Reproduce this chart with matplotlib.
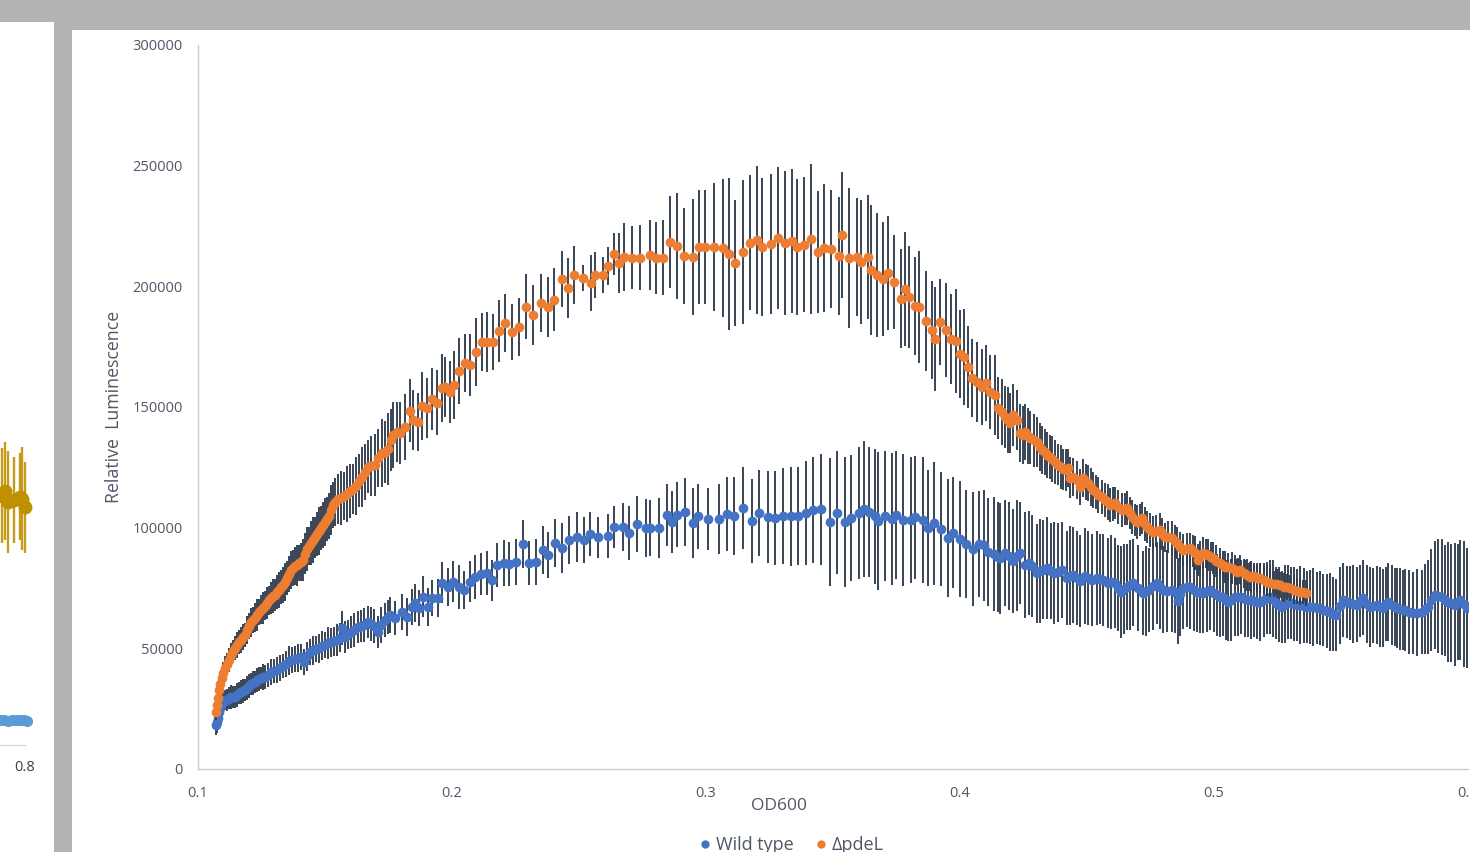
import matplotlib
matplotlib.use("Agg")
import matplotlib.pyplot as plt
from matplotlib.patches import Rectangle
from matplotlib.lines import Line2D

# ---------------- data ----------------
series_names = ["Wild type", "\u0394pdeL"]

wt_od = [0.1071,0.1075,0.1079,0.1083,0.1087,0.1091,0.1098,0.1106,0.1114,0.1122,
0.1130,0.1138,0.1146,0.1154,0.1161,0.1169,0.1177,0.1185,0.1193,0.1201,
0.1209,0.1217,0.1224,0.1232,0.1240,0.1248,0.1256,0.1264,0.1276,0.1287,
0.1299,0.1311,0.1323,0.1335,0.1346,0.1358,0.1370,0.1382,0.1394,0.1406,
0.1417,0.1429,0.1441,0.1453,0.1465,0.1476,0.1488,0.1500,0.1512,0.1524,
0.1535,0.1547,0.1559,0.1567,0.1579,0.1591,0.1602,0.1614,0.1630,0.1642,
0.1654,0.1669,0.1681,0.1693,0.1709,0.1720,0.1736,0.1748,0.1756,0.1776,
0.1803,0.1823,0.1843,0.1854,0.1870,0.1886,0.1906,0.1921,0.1945,0.1961,
0.1984,0.2004,0.2028,0.2047,0.2071,0.2091,0.2114,0.2138,0.2157,0.2177,
0.2205,0.2224,0.2252,0.2280,0.2303,0.2331,0.2358,0.2378,0.2406,0.2433,
0.2461,0.2492,0.2520,0.2543,0.2575,0.2614,0.2638,0.2673,0.2697,0.2728,
0.2764,0.2780,0.2815,0.2846,0.2866,0.2886,0.2917,0.2949,0.2969,0.3008,
0.3051,0.3083,0.3110,0.3146,0.3181,0.3209,0.3244,0.3272,0.3303,0.3335,
0.3362,0.3394,0.3421,0.3453,0.3488,0.3516,0.3547,0.3571,0.3602,0.3622,
0.3642,0.3665,0.3677,0.3705,0.3732,0.3748,0.3776,0.3807,0.3823,0.3854,
0.3874,0.3898,0.3925,0.3953,0.3972,0.4000,0.4024,0.4051,0.4075,0.4094,
0.4110,0.4134,0.4150,0.4157,0.4177,0.4193,0.4209,0.4224,0.4236,0.4256,
0.4272,0.4283,0.4303,0.4315,0.4327,0.4343,0.4358,0.4370,0.4386,0.4402,
0.4421,0.4433,0.4445,0.4461,0.4472,0.4492,0.4504,0.4520,0.4539,0.4551,
0.4563,0.4583,0.4594,0.4610,0.4622,0.4634,0.4646,0.4657,0.4669,0.4681,
0.4701,0.4720,0.4732,0.4744,0.4760,0.4776,0.4787,0.4799,0.4815,0.4835,
0.4846,0.4858,0.4866,0.4878,0.4894,0.4906,0.4921,0.4933,0.4945,0.4957,
0.4972,0.4984,0.5000,0.5012,0.5024,0.5035,0.5047,0.5055,0.5067,0.5083,
0.5094,0.5106,0.5122,0.5134,0.5146,0.5157,0.5169,0.5181,0.5197,0.5209,
0.5220,0.5232,0.5244,0.5256,0.5268,0.5280,0.5291,0.5303,0.5315,0.5327,
0.5339,0.5354,0.5366,0.5378,0.5390,0.5406,0.5417,0.5429,0.5445,0.5457,
0.5469,0.5480,0.5496,0.5508,0.5524,0.5535,0.5547,0.5563,0.5575,0.5587,
0.5602,0.5614,0.5626,0.5642,0.5654,0.5665,0.5677,0.5685,0.5701,0.5713,
0.5720,0.5732,0.5744,0.5752,0.5768,0.5783,0.5799,0.5819,0.5831,0.5843,
0.5854,0.5870,0.5882,0.5898,0.5909,0.5921,0.5933,0.5949,0.5961,0.5969,
0.5984,0.5996]

wt_lum = [18200,19500,21100,23600,25300,26500,27800,28600,28600,29400,
29800,29800,29800,30700,31500,31900,32300,32700,33600,34400,
35200,35600,36100,36900,37300,37700,38100,38100,39000,40200,
40600,41000,41900,42700,43500,44800,45200,45600,46000,46400,
44300,46800,48500,49300,49700,50100,51000,51400,52200,52600,
53000,53500,54300,58400,54700,55900,56800,57600,58800,59300,
59700,60900,60100,59300,56800,59700,61800,63000,63800,62600,
65100,63000,67100,68800,66700,71300,67100,70900,70900,77100,
75400,77500,75400,74200,77500,79600,80800,81200,78300,84500,
85400,85000,85800,93200,85400,85800,90800,88700,93700,91600,
94900,96100,94900,97400,96100,96600,100300,100300,97800,101500,
99900,99900,99900,105300,102400,105300,106500,101900,104800,103600,
103600,105700,104800,108200,102800,106100,104400,104000,104800,104800,
104800,106100,107300,107700,102400,106100,102400,104000,106100,107700,
106500,104800,102800,104800,103600,105300,103200,103200,104400,103200,
99900,101900,99500,95700,97800,95300,93200,91200,93200,92800,
89900,89100,87900,87400,89500,88300,86200,88300,89500,84500,
85400,84100,81200,82100,82500,83300,82100,81200,81600,82500,
79200,80000,80400,79200,77900,80000,79200,78300,79200,78700,
78300,77100,77500,77100,75000,73400,74600,75400,76300,77100,
75000,72900,73800,74200,75800,77100,75400,74200,73800,74200,
73400,69600,72500,75000,75400,75400,74200,73400,73400,72900,
73800,74200,72900,72100,71300,71300,70000,69200,70000,71300,
71300,71300,70500,70000,70000,69600,69200,69200,70000,70900,
71300,70500,68800,68000,67100,68400,69200,68800,68400,68000,
68000,67600,67100,67100,67100,66700,66700,65900,65500,65100,
64200,63800,67600,70000,69200,68800,68400,68000,69600,70900,
68400,67100,67600,68000,67100,66700,68400,69200,68000,67100,
66700,66300,65900,65900,65100,64700,64700,65100,66300,67100,
70000,72100,71700,71300,70000,69200,68800,68000,69200,70000,
68400,66700]

wt_err = [4000,4500,4000,4500,4000,4500,4500,4000,4500,4500,5000,4500,4500,5000,4500,5000,5000,4500,5000,5000,
4500,5000,4500,5000,5000,4500,5500,5000,5000,5500,5000,5500,5500,5000,5500,6000,5500,5500,6000,5500,
5500,6000,5500,6000,5500,6000,6000,5500,6500,6000,6000,6500,6000,7000,6500,6000,6500,7000,6500,6500,
7000,6500,7000,7000,6500,7500,7000,7000,7500,7000,
7500,8000,7500,8000,7500,8500,8000,7500,8000,8500,8000,8500,9000,8000,8500,9000,8500,9000,8500,9000,
9500,9000,9500,10000,9000,9500,10000,9500,10000,10500,
10000,10500,9500,9000,8500,9000,8700,10000,11000,11500,12000,11500,12500,
12800,13000,13500,14000,14500,13500,13000,14500,15500,16000,
17000,17500,18000,19000,19500,20000,20500,20300,21500,22000,23000,
26500,25500,27000,26000,27500,28300,27000,28000,28500,27000,27500,26500,27500,26000,25500,26000,
24000,25500,23500,24500,23000,24000,22500,23500,22000,23000,22500,23500,22800,
23000,22000,22500,21500,23000,21000,22000,21500,21000,20500,21500,20500,21000,20000,21000,20500,20000,19500,20500,20000,
19500,19000,20000,19500,19000,19500,18500,19000,18500,19500,18500,18000,19000,18500,18000,18500,18000,
18000,17500,18500,17500,18000,17000,17500,18000,17000,17500,17000,18000,17500,17000,16500,17500,17000,16500,17000,16500,
17000,16500,16000,17000,16500,16000,16500,16000,17000,16000,
16000,15500,16000,15500,16000,15000,15500,16000,15500,15000,15500,16000,15000,15500,15000,16000,15500,15000,15500,15000,
16000,15500,15000,15500,16000,15000,15500,15000,15500,16000,15500,15000,16000,15500,15000,15500,16000,15500,15000,15500,
16000,16500,15500,16000,16500,16000,15500,16000,16500,16000,16500,17000,16500,17000,17500,17000,18000,17500,18500,19500,
21000,22500,23500,24000,23000,25000,24500,25500,24000,25000,26000,25000]

ko_od = [0.1071,0.1075,0.1079,0.1083,0.1087,0.1094,0.1098,0.1106,0.1114,0.1122,
0.1130,0.1138,0.1146,0.1154,0.1161,0.1169,0.1177,0.1185,0.1193,0.1201,
0.1209,0.1217,0.1224,0.1232,0.1240,0.1248,0.1256,0.1264,0.1272,0.1280,
0.1287,0.1295,0.1303,0.1311,0.1319,0.1327,0.1335,0.1343,0.1350,0.1358,
0.1366,0.1374,0.1382,0.1390,0.1398,0.1406,0.1413,0.1421,0.1429,0.1437,
0.1445,0.1453,0.1461,0.1469,0.1476,0.1484,0.1492,0.1500,0.1508,0.1516,
0.1524,0.1531,0.1539,0.1551,0.1563,0.1575,0.1587,0.1598,0.1610,0.1622,
0.1634,0.1646,0.1657,0.1669,0.1681,0.1697,0.1709,0.1724,0.1736,0.1748,
0.1760,0.1768,0.1783,0.1795,0.1815,0.1835,0.1846,0.1866,0.1882,0.1902,
0.1921,0.1941,0.1961,0.1972,0.1992,0.2008,0.2028,0.2051,0.2071,0.2094,
0.2118,0.2138,0.2161,0.2185,0.2209,0.2236,0.2264,0.2291,0.2319,0.2350,
0.2378,0.2402,0.2433,0.2457,0.2480,0.2516,0.2547,0.2563,0.2594,0.2614,
0.2638,0.2657,0.2677,0.2709,0.2740,0.2780,0.2803,0.2831,0.2858,0.2886,
0.2913,0.2949,0.2972,0.2996,0.3031,0.3067,0.3091,0.3114,0.3146,0.3173,
0.3201,0.3220,0.3256,0.3283,0.3311,0.3339,0.3358,0.3386,0.3413,0.3441,
0.3465,0.3492,0.3524,0.3535,0.3563,0.3594,0.3610,0.3638,0.3650,0.3673,
0.3697,0.3717,0.3740,0.3768,0.3783,0.3799,0.3823,0.3839,0.3866,0.3890,
0.3902,0.3921,0.3945,0.3965,0.3984,0.4000,0.4016,0.4031,0.4047,0.4067,
0.4087,0.4102,0.4118,0.4138,0.4150,0.4165,0.4177,0.4189,0.4197,0.4209,
0.4224,0.4236,0.4248,0.4256,0.4268,0.4276,0.4291,0.4303,0.4315,0.4323,
0.4335,0.4343,0.4354,0.4362,0.4374,0.4386,0.4398,0.4406,0.4417,0.4425,
0.4433,0.4445,0.4461,0.4472,0.4484,0.4496,0.4504,0.4516,0.4524,0.4535,
0.4543,0.4559,0.4571,0.4583,0.4591,0.4602,0.4610,0.4622,0.4638,0.4650,
0.4657,0.4669,0.4677,0.4689,0.4697,0.4709,0.4717,0.4728,0.4736,0.4748,
0.4760,0.4772,0.4787,0.4795,0.4807,0.4819,0.4835,0.4846,0.4854,0.4866,
0.4878,0.4894,0.4906,0.4917,0.4925,0.4937,0.4945,0.4957,0.4969,0.4976,
0.4988,0.4996,0.5008,0.5024,0.5035,0.5043,0.5055,0.5071,0.5083,0.5091,
0.5102,0.5118,0.5130,0.5142,0.5157,0.5169,0.5181,0.5197,0.5209,0.5220,
0.5236,0.5248,0.5260,0.5276,0.5287,0.5299,0.5315,0.5327,0.5339,0.5350,
0.5362]

ko_lum = [23600,26500,29400,32700,35200,37700,39800,41900,43500,45200,
47200,48900,50100,51400,52600,53500,54700,55500,57600,59300,
60900,61800,62600,63800,65100,65900,66700,67600,68800,70000,
70900,71700,72100,73400,74200,75400,76300,77500,79200,80800,
82500,83300,84100,84500,85400,85800,86600,89100,91200,92400,
93700,94900,96100,97400,98600,99900,101100,102400,103600,104800,
107300,109400,110600,111900,112300,113100,114000,115200,116000,117300,
119400,121000,123100,125200,125600,126000,128900,131000,131400,132600,
136300,138400,139700,139200,141700,148400,144600,143800,150400,149600,
153300,151700,157900,158300,156200,159100,164900,168300,167400,172800,
177000,177000,177000,181500,184800,181100,183200,191500,188100,193100,
191500,194400,203100,199300,204700,203500,201400,204700,204700,208400,
213400,209700,212200,211800,211800,213000,211800,211800,218400,216700,
212600,212200,216300,216300,216300,215900,213400,209700,214200,218000,
219200,216300,217600,220100,218000,218800,216300,217200,219600,214200,
215900,215500,212600,221300,211800,212200,210100,212200,206800,204700,
203100,205500,201800,194800,198900,195600,191900,191500,185700,181900,
178200,185200,181900,178200,177400,172000,170700,166600,162000,160400,
158300,160000,156200,155000,149600,147900,145900,144600,143400,146700,
144600,139200,138400,139700,138000,137200,136300,135500,133400,132200,
131400,130100,129300,128500,127200,126000,125200,124300,123900,124700,
120600,121000,119800,116900,120600,118900,118500,116900,115600,114800,
113600,112700,111500,110600,109400,109800,110200,108600,107300,107700,
108200,106100,104400,103200,102400,103200,104000,101500,100300,99000,
98200,98600,99000,97400,96100,96100,95700,94500,93700,92000,
90800,91200,91600,90300,89500,86600,88300,89500,89100,88700,
87900,87400,86200,85400,84500,83700,83700,83300,82500,81600,
82500,81200,80400,79600,80000,79200,79200,78300,77500,77100,
76700,76700,76300,75400,75400,75000,74200,73800,73400,73400,
72900]

ko_err = [3500,4000,4000,4500,4000,4500,4500,5000,4500,5000,5000,4500,
5000,5500,5000,5500,5500,5000,6000,5500,6000,5500,6000,6500,5500,6000,6500,6000,6500,6000,
6500,7000,6500,7000,7500,7000,7500,8000,7000,7500,8000,7500,8000,8500,7500,8000,8500,
8500,9000,8000,9000,9500,8500,9000,10000,9000,9500,10000,9000,9500,10500,9500,10000,
10500,11000,10000,11500,11000,10500,12000,11000,12500,11500,11000,12500,13000,12000,14000,13000,15000,
13000,13500,12500,13000,13500,13000,12500,12000,14000,12500,13000,13500,14000,12500,13000,14000,13500,12000,13000,14000,
12000,12500,11500,13000,12000,11500,12000,13500,12500,12000,12500,13000,11500,12500,12000,5500,11500,9500,7500,8000,
8700,12400,14200,13000,13500,14500,15000,15500,
19200,21800,20000,24000,23500,23500,26700,
28500,31400,26000,29800,28000,30500,28500,29000,29500,29800,30000,28000,28000,30900,25200,26500,24500,24500,
26200,29000,24500,25700,25700,27000,25700,23600,23600,19600,
20500,23600,21000,20300,23200,20700,20300,21500,17800,19500,18600,21500,
18200,19900,17000,16200,16600,15700,15700,15300,16600,
12800,13500,13000,13500,12500,13000,12500,12000,12000,11500,11500,11000,11000,10500,10000,10000,
9500,9500,9000,9500,9000,8500,9000,8500,8500,8000,8500,8000,8000,7500,8000,7500,7500,8000,7500,7000,
7500,7000,7000,7500,7000,7000,6500,7000,7000,6500,
7000,6500,7000,6500,7000,6500,6500,7000,6500,7000,6500,6500,7000,6500,6000,6500,7000,6500,6500,6000,
6500,6500,6000,6500,7000,6500,6000,6500,6000,6500,6000,6500,6500,6000,6000,6500,6000,6500,6000,5500,
6000,6000,6500,6000,5500,6000,6000,5500,6000,6000,5500,6000,5500,6000,5500,5500,6000,5500,5500,5000,
5500]

x_ticks = [0.1, 0.2, 0.3, 0.4, 0.5, 0.6]
x_tick_labels = ["0.1", "0.2", "0.3", "0.4", "0.5", "0.6"]
y_ticks = [0, 50000, 100000, 150000, 200000, 250000, 300000]
y_tick_labels = ["0", "50000", "100000", "150000", "200000", "250000", "300000"]

# neighbouring (cropped) chart on the left edge of the screenshot
side_gold_x = [0.7862, 0.7880, 0.7898, 0.7934, 0.7970, 0.7982, 0.8000]
side_gold_y = [106900, 108900, 104100, 105000, 106500, 105600, 101800]
side_gold_err = [20400, 21000, 21900, 18400, 18600, 22100, 19500]
side_blue_x = [0.7850, 0.7874, 0.7898, 0.7922, 0.7946, 0.7970, 0.7994, 0.8012]
side_blue_y = [10700, 10900, 10500, 10800, 10600, 10900, 10700, 10300]

# ---------------- style ----------------
W, H = 1470, 852
BLUE = "#4472C4"
ORANGE = "#ED7D31"
ERRC = "#313d4e"
TXT = "#4f5766"
FONT = ["Open Sans", "DejaVu Sans"]
plt.rcParams["font.family"] = FONT

fig = plt.figure(figsize=(W / 100, H / 100), dpi=100)
fig.patch.set_facecolor("#b3b3b3")

# white panels (screenshot background)
fig.patches.append(Rectangle((72 / W, 0), 1.0, (H - 30) / H, transform=fig.transFigure,
                             facecolor="white", edgecolor="none", zorder=-5))
fig.patches.append(Rectangle((0, 0), 54 / W, (H - 22) / H, transform=fig.transFigure,
                             facecolor="white", edgecolor="none", zorder=-5))

# ---------------- main chart ----------------
ax = fig.add_axes([198 / W, (H - 769) / H, 1270 / W, 724 / H])
ax.set_facecolor("none")
n_wt = min(len(wt_od), len(wt_lum), len(wt_err))
n_ko = min(len(ko_od), len(ko_lum), len(ko_err))

ax.errorbar(wt_od[:n_wt], wt_lum[:n_wt], yerr=wt_err[:n_wt], fmt="none",
            ecolor=ERRC, elinewidth=1.35, capsize=0, zorder=2)
ax.plot(wt_od[:n_wt], wt_lum[:n_wt], "o", color=BLUE, markersize=7,
        markeredgewidth=0, zorder=3)
ax.errorbar(ko_od[:n_ko], ko_lum[:n_ko], yerr=ko_err[:n_ko], fmt="none",
            ecolor=ERRC, elinewidth=1.35, capsize=0, zorder=4)
ax.plot(ko_od[:n_ko], ko_lum[:n_ko], "o", color=ORANGE, markersize=7,
        markeredgewidth=0, zorder=5)

ax.set_xlim(0.1, 0.6)
ax.set_ylim(0, 300000)
ax.set_xticks(x_ticks)
ax.set_xticklabels(x_tick_labels)
ax.set_yticks(y_ticks)
ax.set_yticklabels(y_tick_labels)
ax.tick_params(axis="both", length=0, labelsize=10.5, labelcolor=TXT)
ax.tick_params(axis="y", pad=11)
ax.tick_params(axis="x", pad=12)
for s in ["top", "right"]:
    ax.spines[s].set_visible(False)
for s in ["left", "bottom"]:
    ax.spines[s].set_color("#c3ccdb")
    ax.spines[s].set_linewidth(1.0)

fig.text(779 / W, 1 - 806 / H, "OD600", ha="center", va="center",
         fontsize=12.5, color=TXT)
fig.text(114 / W, 1 - 407 / H, "Relative  Luminescence", ha="center", va="center",
         rotation=90, fontsize=12.8, color=TXT)

handles = [Line2D([], [], linestyle="none", marker="o", color=BLUE, markersize=6, markeredgewidth=0),
           Line2D([], [], linestyle="none", marker="o", color=ORANGE, markersize=6, markeredgewidth=0)]
fig.legend(handles, series_names, loc="center", bbox_to_anchor=(790 / W, 1 - 845 / H),
           ncol=2, frameon=False, fontsize=13, labelcolor=TXT, handletextpad=0.1,
           columnspacing=1.0, handlelength=1.0)

# ---------------- cropped neighbour chart on the left ----------------
ax2 = fig.add_axes([0, (H - 745) / H, 25 / W, 700 / H])
ax2.set_facecolor("none")
ax2.errorbar(side_gold_x, side_gold_y, yerr=side_gold_err, fmt="none",
             ecolor="#BF9000", elinewidth=1.7, capsize=0, clip_on=False, alpha=0.9)
ax2.plot(side_gold_x, side_gold_y, "o", color="#BF9000", markersize=10,
         markeredgewidth=0, clip_on=False)
ax2.plot(side_blue_x, side_blue_y, "o", color="#5B9BD5", markersize=8,
         markeredgewidth=0, clip_on=False)
ax2.set_xlim(0.785, 0.800)
ax2.set_ylim(0, 300000)
ax2.set_xticks([0.8])
ax2.set_xticklabels(["0.8"])
ax2.set_yticks([])
ax2.tick_params(axis="x", length=0, labelsize=10.5, labelcolor="#404040", pad=11)
for s in ["top", "right", "left"]:
    ax2.spines[s].set_visible(False)
ax2.spines["bottom"].set_color("#d0d0d0")

fig.savefig("out.png", dpi=100, facecolor=fig.get_facecolor())
